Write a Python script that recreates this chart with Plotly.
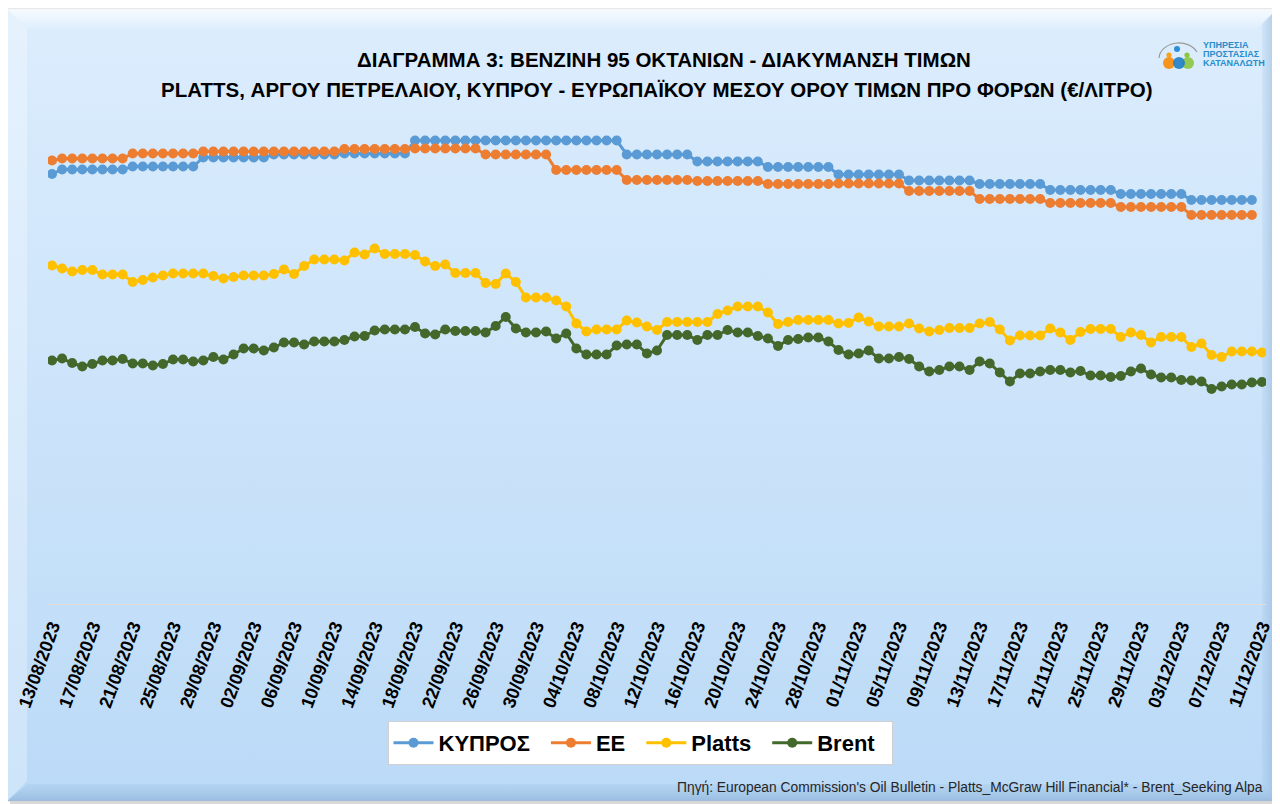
import base64
import pandas as pd
import plotly.graph_objects as go

# ---------------- data ----------------
dates = pd.date_range("2023-08-13", "2023-12-11", freq="D").strftime("%d/%m/%Y").tolist()
tick_labels = dates[::4]

kypros = [
    0.860,
    0.869, 0.869, 0.869, 0.869, 0.869, 0.869, 0.869,
    0.875, 0.875, 0.875, 0.875, 0.875, 0.875, 0.875,
    0.893, 0.893, 0.893, 0.893, 0.893, 0.893, 0.893,
    0.899, 0.899, 0.899, 0.899, 0.899, 0.899, 0.899,
    0.901, 0.901, 0.901, 0.901, 0.901, 0.901, 0.901,
    0.927, 0.927, 0.927, 0.927, 0.927, 0.927, 0.927,
    0.927, 0.927, 0.927, 0.927, 0.927, 0.927, 0.927,
    0.927, 0.927, 0.927, 0.927, 0.927, 0.927, 0.927,
    0.899, 0.899, 0.899, 0.899, 0.899, 0.899, 0.899,
    0.885, 0.885, 0.885, 0.885, 0.885, 0.885, 0.885,
    0.874, 0.874, 0.874, 0.874, 0.874, 0.874, 0.874,
    0.859, 0.859, 0.859, 0.859, 0.859, 0.859, 0.859,
    0.847, 0.847, 0.847, 0.847, 0.847, 0.847, 0.847,
    0.840, 0.840, 0.840, 0.840, 0.840, 0.840, 0.840,
    0.828, 0.828, 0.828, 0.828, 0.828, 0.828, 0.828,
    0.820, 0.820, 0.820, 0.820, 0.820, 0.820, 0.820,
    0.808, 0.808, 0.808, 0.808, 0.808, 0.808, 0.808,
]

ee = [
    0.887,
    0.891, 0.891, 0.891, 0.891, 0.891, 0.891, 0.891,
    0.901, 0.901, 0.901, 0.901, 0.901, 0.901, 0.901,
    0.905, 0.905, 0.905, 0.905, 0.905, 0.905, 0.905,
    0.905, 0.905, 0.905, 0.905, 0.905, 0.905, 0.905,
    0.910, 0.910, 0.910, 0.910, 0.910, 0.910, 0.910,
    0.911, 0.911, 0.911, 0.911, 0.911, 0.911, 0.911,
    0.899, 0.899, 0.899, 0.899, 0.899, 0.899, 0.899,
    0.868, 0.868, 0.868, 0.868, 0.868, 0.868, 0.868,
    0.848, 0.848, 0.848, 0.848, 0.848, 0.848, 0.848,
    0.846, 0.846, 0.846, 0.846, 0.846, 0.846, 0.846,
    0.840, 0.840, 0.840, 0.840, 0.840, 0.840, 0.840,
    0.841, 0.841, 0.841, 0.841, 0.841, 0.841, 0.841,
    0.826, 0.826, 0.826, 0.826, 0.826, 0.826, 0.826,
    0.810, 0.810, 0.810, 0.810, 0.810, 0.810, 0.810,
    0.802, 0.802, 0.802, 0.802, 0.802, 0.802, 0.802,
    0.794, 0.794, 0.794, 0.794, 0.794, 0.794, 0.794,
    0.778, 0.778, 0.778, 0.778, 0.778, 0.778, 0.778,
]

platts = [
    0.677, 0.671, 0.665, 0.668, 0.668, 0.659, 0.659, 0.659, 0.644, 0.648,
    0.653, 0.657, 0.661, 0.661, 0.661, 0.661, 0.656, 0.651, 0.654, 0.657,
    0.657, 0.657, 0.660, 0.669, 0.660, 0.676, 0.689, 0.689, 0.689, 0.687,
    0.703, 0.699, 0.711, 0.700, 0.700, 0.700, 0.698, 0.685, 0.676, 0.679,
    0.662, 0.662, 0.662, 0.642, 0.640, 0.661, 0.644, 0.613, 0.613, 0.613,
    0.607, 0.595, 0.561, 0.545, 0.549, 0.549, 0.549, 0.567, 0.563, 0.555,
    0.548, 0.564, 0.564, 0.564, 0.564, 0.564, 0.580, 0.587, 0.595, 0.595,
    0.595, 0.583, 0.560, 0.564, 0.568, 0.568, 0.568, 0.568, 0.561, 0.562,
    0.573, 0.565, 0.555, 0.555, 0.555, 0.561, 0.551, 0.545, 0.548, 0.552,
    0.552, 0.552, 0.561, 0.564, 0.549, 0.527, 0.537, 0.537, 0.537, 0.551,
    0.543, 0.528, 0.544, 0.550, 0.550, 0.550, 0.534, 0.543, 0.538, 0.523,
    0.534, 0.534, 0.534, 0.514, 0.521, 0.498, 0.494, 0.505, 0.505, 0.505,
    0.503,
]

brent = [
    0.487, 0.491, 0.482, 0.475, 0.480, 0.487, 0.487, 0.490, 0.481, 0.481,
    0.477, 0.480, 0.489, 0.489, 0.485, 0.487, 0.494, 0.489, 0.499, 0.511,
    0.511, 0.507, 0.513, 0.523, 0.523, 0.519, 0.525, 0.525, 0.525, 0.528,
    0.535, 0.536, 0.547, 0.549, 0.549, 0.549, 0.554, 0.541, 0.539, 0.549,
    0.546, 0.546, 0.546, 0.543, 0.556, 0.574, 0.551, 0.543, 0.543, 0.545,
    0.531, 0.541, 0.511, 0.499, 0.499, 0.499, 0.517, 0.519, 0.519, 0.501,
    0.507, 0.538, 0.538, 0.538, 0.528, 0.538, 0.538, 0.548, 0.543, 0.543,
    0.536, 0.531, 0.516, 0.528, 0.530, 0.533, 0.533, 0.525, 0.508, 0.499,
    0.501, 0.507, 0.491, 0.491, 0.494, 0.490, 0.475, 0.465, 0.468, 0.475,
    0.475, 0.468, 0.485, 0.481, 0.463, 0.445, 0.461, 0.461, 0.465, 0.468,
    0.468, 0.463, 0.466, 0.457, 0.457, 0.454, 0.456, 0.465, 0.471, 0.459,
    0.453, 0.453, 0.448, 0.447, 0.445, 0.430, 0.435, 0.439, 0.439, 0.443,
    0.444,
]

series_names = ["ΚΥΠΡΟΣ", "ΕΕ", "Platts", "Brent"]
series_values = [kypros, ee, platts, brent]
series_colors = ["#5B9BD5", "#ED7D31", "#FFC000", "#43682B"]

# ---------------- figure geometry ----------------
# the page body has an 8px margin, so the figure starts at (8, 8) of the window
OFF = 8
W, H = 1280 - OFF, 804 - OFF
ML, MT, PW, PH = 48 - OFF, 104 - OFF, 1218, 500
MR, MB = W - ML - PW, H - MT - PH


def px(xs):  # window x -> paper x
    return (xs - OFF - ML) / PW


def py(ys):  # window y -> paper y
    return (MT + PH - (ys - OFF)) / PH


fig = go.Figure()
for name, vals, col in zip(series_names, series_values, series_colors):
    fig.add_trace(go.Scatter(
        x=dates[:len(vals)], y=vals, name=name + "\u2002", mode="lines+markers",
        line=dict(color=col, width=3),
        marker=dict(size=10, color=col, symbol="circle"),
    ))

# background (bevelled light-blue panel + logo icon), drawn in window coordinates
svg = f"""<svg xmlns='http://www.w3.org/2000/svg' width='{W}' height='{H}' viewBox='{OFF} {OFF} {W} {H}'>
<defs>
<linearGradient id='g' x1='0' y1='0' x2='0' y2='1'>
<stop offset='0' stop-color='#DCEDFD'/><stop offset='1' stop-color='#BBDAF7'/></linearGradient>
<linearGradient id='t' x1='0' y1='0' x2='0' y2='1'>
<stop offset='0' stop-color='#FFFFFF' stop-opacity='0.75'/><stop offset='1' stop-color='#FFFFFF' stop-opacity='0.1'/></linearGradient>
<linearGradient id='b' x1='0' y1='0' x2='0' y2='1'>
<stop offset='0' stop-color='#8FB3D8' stop-opacity='0.15'/><stop offset='1' stop-color='#7FA6CE' stop-opacity='0.55'/></linearGradient>
<linearGradient id='r' x1='0' y1='0' x2='1' y2='0'>
<stop offset='0' stop-color='#8FB3D8' stop-opacity='0.15'/><stop offset='1' stop-color='#7FA6CE' stop-opacity='0.55'/></linearGradient>
</defs>
<rect x='0' y='0' width='1300' height='830' fill='#FFFFFF'/>
<rect x='10' y='12' width='1270' height='792' fill='#C9C9C9' opacity='0.7'/>
<rect x='7' y='9' width='1270' height='792' fill='url(#g)' stroke='#D2D2D2' stroke-width='1'/>
<polygon points='7,9 1277,9 1257,29 27,29' fill='url(#t)'/>
<polygon points='7,9 27,29 27,781 7,801' fill='#FFFFFF' opacity='0.28'/>
<polygon points='1277,9 1277,801 1262,786 1262,24' fill='url(#r)'/>
<polygon points='7,801 1277,801 1262,784 27,784' fill='url(#b)'/>
<path d='M1159,58 A20,16 0 0 1 1197,52' fill='none' stroke='#9A9A9A' stroke-width='1.2'/>
<circle cx='1177' cy='49' r='3' fill='#2C8ED6'/>
<circle cx='1169' cy='55' r='2.6' fill='#F7A21B'/>
<circle cx='1187' cy='55' r='2.6' fill='#8CC63F'/>
<circle cx='1169' cy='63' r='6' fill='#F7941D'/>
<circle cx='1188' cy='63' r='6' fill='#8DC63F' opacity='0.9'/>
<circle cx='1179' cy='63' r='6' fill='#1F7FC4' opacity='0.9'/>
</svg>"""
src = "data:image/svg+xml;base64," + base64.b64encode(svg.encode("utf-8")).decode("ascii")
fig.add_layout_image(dict(
    source=src, xref="paper", yref="paper",
    x=-ML / PW, y=(PH + MT) / PH, sizex=W / PW, sizey=H / PH,
    xanchor="left", yanchor="top", sizing="stretch", layer="below",
))

title_font = dict(family="Liberation Sans, Arial, sans-serif", size=20.5, color="#000000", weight="bold")
annotations = [
    dict(text="ΔΙΑΓΡΑΜΜΑ 3: ΒΕΝΖΙΝΗ 95 ΟΚΤΑΝΙΩΝ - ΔΙΑΚΥΜΑΝΣΗ ΤΙΜΩΝ",
         x=px(664), y=py(60), font=title_font),
    dict(text="PLATTS, ΑΡΓΟΥ ΠΕΤΡΕΛΑΙΟΥ, ΚΥΠΡΟΥ - ΕΥΡΩΠΑΪΚΟΥ ΜΕΣΟΥ ΟΡΟΥ ΤΙΜΩΝ ΠΡΟ ΦΟΡΩΝ (€/ΛΙΤΡΟ)",
         x=px(657), y=py(90), font=title_font),
    dict(text="Πηγή: European Commission's Oil Bulletin - Platts_McGraw Hill Financial* - Brent_Seeking Alpa",
         x=px(1265), y=py(787), xanchor="right",
         font=dict(family="Liberation Sans, Arial, sans-serif", size=13.8, color="#262626")),
]
logo_font = dict(family="Liberation Sans Narrow, Liberation Sans, Arial", size=9, color="#2A8CCB", weight="bold")
for txt, yy in [("ΥΠΗΡΕΣΙΑ", 45), ("ΠΡΟΣΤΑΣΙΑΣ", 54), ("ΚΑΤΑΝΑΛΩΤΗ", 63)]:
    annotations.append(dict(text=txt, x=px(1201), y=py(yy), xanchor="left", font=logo_font))
for a in annotations:
    a.setdefault("xref", "paper")
    a.setdefault("yref", "paper")
    a.setdefault("showarrow", False)
    a.setdefault("xanchor", "center")
    a.setdefault("yanchor", "middle")

fig.update_layout(
    width=W, height=H, autosize=False,
    margin=dict(l=ML, r=MR, t=MT, b=MB, pad=0, autoexpand=False),
    paper_bgcolor="#FFFFFF", plot_bgcolor="rgba(0,0,0,0)",
    showlegend=True,
    legend=dict(
        orientation="h", x=px(640), xanchor="center", y=py(721), yanchor="top",
        bgcolor="#FFFFFF", bordercolor="#D0D0D0", borderwidth=1,
        font=dict(family="Liberation Sans, Arial, sans-serif", size=22, color="#000000", weight="bold"),
        itemwidth=40, traceorder="normal",
    ),
    annotations=annotations,
    xaxis=dict(
        type="category", range=[-0.4, len(dates) - 0.6], automargin=False,
        tickmode="array", tickvals=tick_labels, ticktext=tick_labels,
        tickangle=-70, ticks="", ticklabelstandoff=4,
        tickfont=dict(family="Liberation Sans, Arial, sans-serif", size=18, color="#000000", weight="bold"),
        showgrid=False, zeroline=False, showline=True, linecolor="#E2DCD3", linewidth=1,
        fixedrange=True,
    ),
    yaxis=dict(range=[0, 1], visible=False, showgrid=False, zeroline=False, fixedrange=True,
               automargin=False),
    hovermode=False,
)

fig.write_html("out.html")
